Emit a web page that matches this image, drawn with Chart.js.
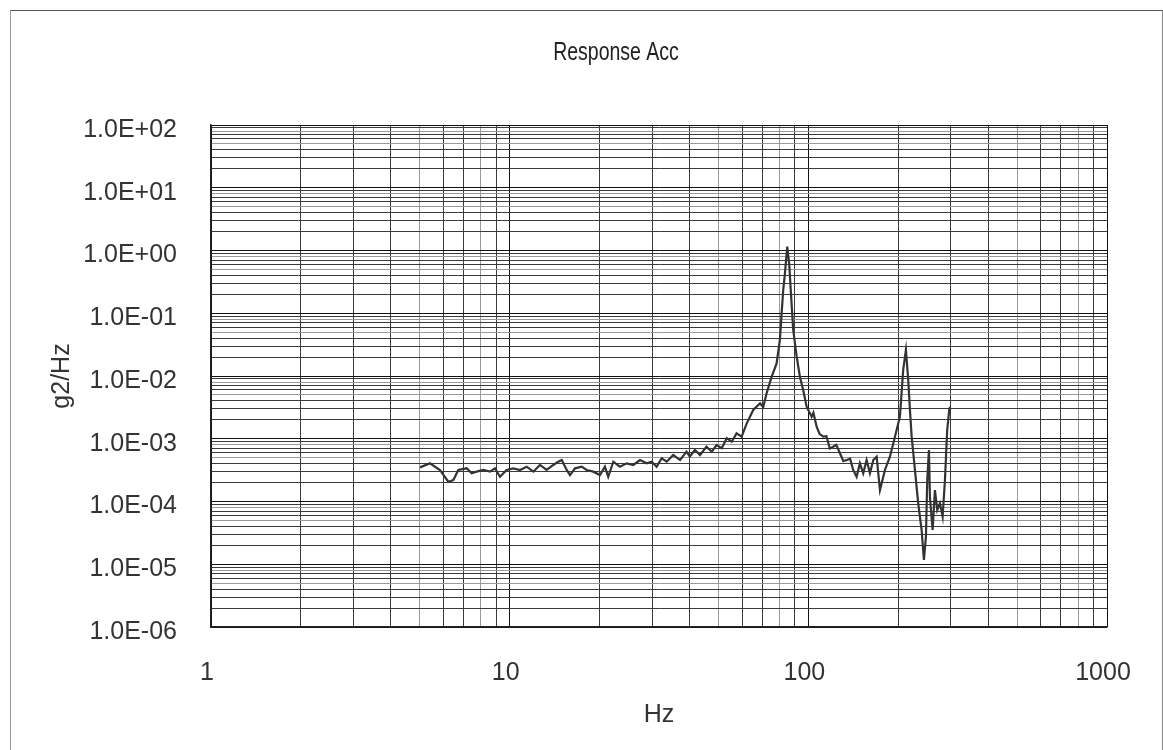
<!DOCTYPE html>
<html>
<head>
<meta charset="utf-8">
<script src="https://cdn.jsdelivr.net/npm/chart.js@4.4.1/dist/chart.umd.min.js"></script>
<style>
  html, body { margin: 0; padding: 0; background: #fff; }
  #wrap { position: relative; width: 1163px; height: 750px; }
  #frame { position: absolute; left: 10px; top: 10px; width: 1151px; height: 760px;
           border-top: 1.5px solid #555; border-left: 1.5px solid #999; border-right: 1.5px solid #888; }
  canvas { position: absolute; left: 0; top: 0; }
</style>
</head>
<body>
<div id="wrap">
  <div id="frame"></div>
  <canvas id="c" width="1163" height="750"></canvas>
</div>
<script>
// ---- data ----
const chartTitle = 'Response Acc';
const xTitle = 'Hz';
const yTitle = 'g2/Hz';
const xTickLabels = ['1', '10', '100', '1000'];
const yTickLabels = ['1.0E-06', '1.0E-05', '1.0E-04', '1.0E-03', '1.0E-02', '1.0E-01', '1.0E+00', '1.0E+01', '1.0E+02'];

const freqHz = [
  5.01, 5.41, 5.84, 6.23, 6.48, 6.73, 7.18, 7.46, 7.75, 8.16, 8.59, 8.93, 9.28, 9.77,
  10.28, 10.83, 11.40, 12.0, 12.63, 13.30, 14.0, 14.54, 14.94, 15.52, 15.92, 16.55,
  17.42, 18.10, 19.05, 20.06, 20.84, 21.38, 22.23, 23.40, 24.65, 25.93, 27.31, 28.75,
  29.88, 31.06, 32.28, 33.55, 35.3, 37.2, 39.1, 40.1, 41.7, 43.4, 45.6, 47.5, 49.3,
  51.3, 53.3, 55.4, 57.5, 59.8, 62.2, 65.4, 68.9, 70.6, 72.5, 75.4, 78.3, 80.3, 81.4,
  82.4, 83.5, 85.0, 86.3, 87.5, 89.0, 91.4, 93.7, 96.1, 98.7, 102.6, 104.0, 106.6,
  109.0, 112.2, 115.0, 118.0, 121.2, 124.0, 127.6, 131.0, 134.4, 138.0, 141.3, 145.1,
  148.8, 152.7, 156.7, 160.8, 165.0, 169.3, 173.7, 180.5, 187.6, 195.0, 202.6, 207.8,
  212.2, 216.0, 218.9, 221.8, 227.5, 233.3, 239.5, 243.8, 247.6, 250.1, 253.4, 255.3,
  260.7, 265.4, 270.2, 275.8, 281.6, 286.7, 291.7, 296.3, 297.8
];
const psdG2Hz = [
  3.5e-4, 4.06e-4, 3.18e-4, 2.07e-4, 2.2e-4, 3.18e-4, 3.38e-4, 2.81e-4, 2.99e-4, 3.18e-4, 2.99e-4, 3.38e-4, 2.48e-4, 3.18e-4,
  3.38e-4, 3.18e-4, 3.59e-4, 2.99e-4, 3.82e-4, 3.18e-4, 3.82e-4, 4.31e-4, 4.58e-4, 3.18e-4, 2.64e-4, 3.38e-4,
  3.59e-4, 3.18e-4, 2.99e-4, 2.64e-4, 3.59e-4, 2.48e-4, 4.31e-4, 3.59e-4, 4.06e-4, 3.82e-4, 4.58e-4, 4.06e-4,
  4.31e-4, 3.59e-4, 4.88e-4, 4.31e-4, 5.51e-4, 4.58e-4, 6.22e-4, 5.18e-4, 6.62e-4, 5.51e-4, 7.47e-4, 6.22e-4, 7.94e-4,
  7.05e-4, 1.02e-3, 8.98e-4, 1.22e-3, 1.08e-3, 1.76e-3, 2.87e-3, 3.67e-3, 3.2e-3, 5.3e-3, 9.75e-3, 1.59e-2, 3.75e-2, 9.98e-2,
  0.235, 0.434, 1.15, 0.6, 0.2, 5.41e-2, 2.03e-2, 9.75e-3, 5.98e-3, 3.24e-3, 2.25e-3, 2.6e-3, 1.56e-3,
  1.2e-3, 1.08e-3, 1.1e-3, 7.0e-4, 7.47e-4, 8.0e-4, 5.86e-4, 4.4e-4, 4.58e-4, 4.8e-4, 3.18e-4, 2.48e-4,
  4.06e-4, 2.81e-4, 4.58e-4, 2.81e-4, 4.58e-4, 5.18e-4, 1.52e-4, 3.18e-4, 5.18e-4, 1.08e-3, 2.25e-3, 1.25e-2,
  2.6e-2, 8.63e-3, 2.87e-3, 1.08e-3, 3.18e-4, 9.36e-5, 3.51e-5, 1.17e-5, 2.75e-5, 2.2e-4, 6.62e-4, 1.19e-4,
  3.51e-5, 1.52e-4, 7.32e-5, 9.36e-5, 5.73e-5, 2.2e-4, 1.38e-3, 2.87e-3, 3.24e-3
];

// ---- helpers ----
function decadeTicks(minExp, maxExp) {
  const t = [];
  for (let e = minExp; e <= maxExp; e++) {
    const b = Math.pow(10, e);
    if (e === maxExp) { t.push({ value: b }); break; }
    for (let m = 1; m <= 9; m++) t.push({ value: m * b });
  }
  return t;
}
function expOf(v) { return Math.round(Math.log10(v)); }
function isDecade(v) { return Math.abs(Math.log10(v) - expOf(v)) < 1e-9; }
function mantissa(v) { return Math.round(v / Math.pow(10, Math.floor(Math.log10(v) + 1e-9))); }
function gridColor(ctx) {
  const v = ctx.tick ? ctx.tick.value : 1;
  if (isDecade(v)) return '#111';
  const m = mantissa(v);
  return (m === 5 || m === 8) ? '#9a9a9a' : '#3a3a3a';
}

const FONT = "'Liberation Sans', Arial, sans-serif";

const titlePlugin = {
  id: 'centredTitle',
  afterDraw(chart) {
    const c = chart.ctx;
    c.save();
    c.fillStyle = '#222';
    c.font = "26px 'Liberation Sans', Arial, sans-serif";
    c.textAlign = 'center';
    c.textBaseline = 'middle';
    c.translate(616, 53);
    c.scale(0.75, 1);
    c.fillText(chartTitle, 0, 0);
    c.restore();
  }
};

const points = freqHz.map((f, i) => ({ x: f, y: psdG2Hz[i] }));

new Chart(document.getElementById('c'), {
  type: 'line',
  data: {
    datasets: [{
      data: points,
      borderColor: '#333',
      borderWidth: 2.2,
      pointRadius: 0,
      tension: 0,
      fill: false
    }]
  },
  options: {
    responsive: false,
    animation: false,
    devicePixelRatio: 1,
    layout: { padding: { left: 0, right: 56, top: 125, bottom: 0 } },
    plugins: { legend: { display: false }, tooltip: { enabled: false }, title: { display: false } },
    scales: {
      x: {
        type: 'logarithmic',
        min: 1, max: 1000,
        afterBuildTicks: s => { s.ticks = decadeTicks(0, 3); },
        afterFit: s => { s.height = 123; s.paddingLeft = 0; s.paddingRight = 0; },
        grid: { color: gridColor, lineWidth: 1, drawTicks: false },
        border: { display: true, color: '#222', width: 1.5 },
        ticks: {
          autoSkip: false, maxRotation: 0, padding: 31, labelOffset: -4,
          color: '#333', font: { family: FONT, size: 25 },
          callback: v => isDecade(v) ? xTickLabels[expOf(v)] : ''
        },
        title: { display: true, text: xTitle, color: '#333', font: { family: FONT, size: 25 }, padding: { bottom: 20, top: 0 } }
      },
      y: {
        type: 'logarithmic',
        min: 1e-6, max: 100,
        afterBuildTicks: s => { s.ticks = decadeTicks(-6, 2); },
        afterFit: s => { s.width = 211; s.paddingTop = 0; s.paddingBottom = 0; },
        grid: { color: gridColor, lineWidth: 1, drawTicks: false },
        border: { display: true, color: '#222', width: 1.5 },
        ticks: {
          autoSkip: false, padding: 34, labelOffset: 5,
          color: '#333', font: { family: FONT, size: 25 },
          callback: v => isDecade(v) ? yTickLabels[expOf(v) + 6] : ''
        },
        title: { display: true, text: yTitle, color: '#333', font: { family: FONT, size: 25 }, padding: { top: 47, bottom: 0 } }
      }
    }
  },
  plugins: [titlePlugin]
});
</script>
</body>
</html>
